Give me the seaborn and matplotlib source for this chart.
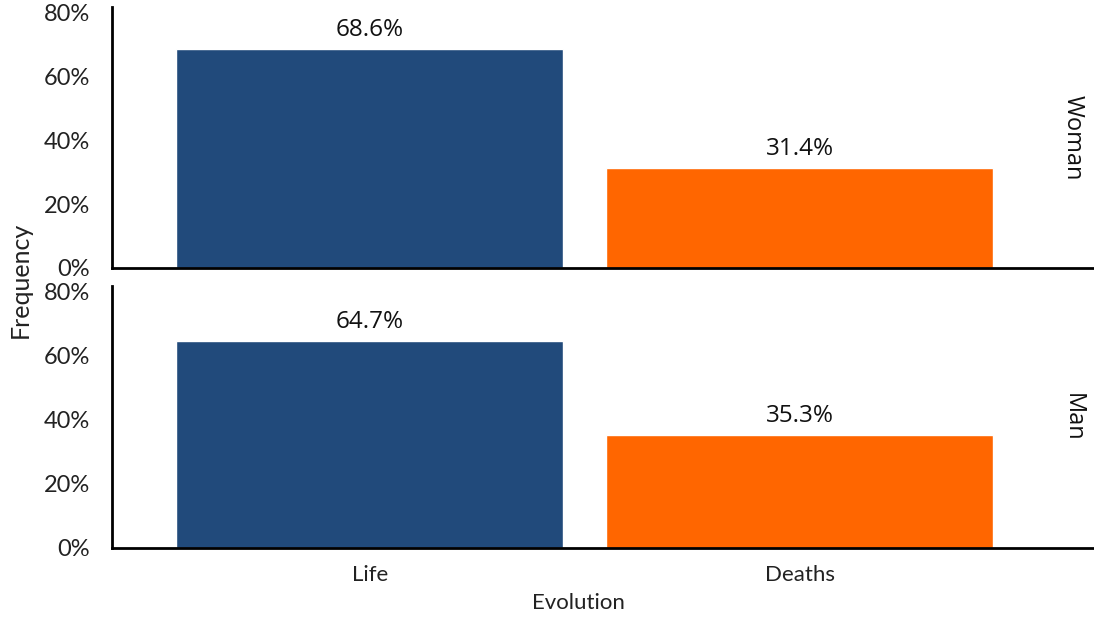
import matplotlib
matplotlib.use("Agg")
import matplotlib.pyplot as plt
import seaborn as sns
import pandas as pd

categories = ["Life", "Deaths"]
sexes = ["Woman", "Man"]
woman_pct = [68.6, 31.4]
man_pct = [64.7, 35.3]
yticks = [0, 20, 40, 60, 80]
ytick_labels = ["0%", "20%", "40%", "60%", "80%"]
colors = {"Life": "#214A7B", "Deaths": "#FF6600"}

sns.set_style("white")
plt.rcParams["font.family"] = ["Lato", "DejaVu Sans"]

W, H = 1094, 617
fig = plt.figure(figsize=(W / 100, H / 100), dpi=100)

def axes_px(x0, y0, x1, y1):
    return fig.add_axes([x0 / W, 1 - y1 / H, (x1 - x0) / W, (y1 - y0) / H])

panels = [("Woman", woman_pct, (112, 7, 1094, 268)),
          ("Man", man_pct, (112, 286, 1094, 548))]

for i, (sex, vals, box) in enumerate(panels):
    ax = axes_px(*box)
    df = pd.DataFrame({"Evolution": categories, "pct": vals})
    sns.barplot(data=df, x="Evolution", y="pct", hue="Evolution",
                palette=colors, width=0.9, ax=ax, legend=False,
                saturation=1, order=categories, hue_order=categories)
    ax.set_xlim(-0.6, 1.684)
    ax.set_ylim(0, 81.8)
    ax.set_yticks(yticks)
    ax.set_yticklabels(ytick_labels, fontsize=17, color="#222222")
    ax.tick_params(axis="y", length=0, pad=16)
    ax.tick_params(axis="x", length=0, pad=12)
    for s in ["top", "right"]:
        ax.spines[s].set_visible(False)
    for s in ["left", "bottom"]:
        ax.spines[s].set_linewidth(2)
        ax.spines[s].set_color("black")
    ax.set_ylabel("")
    ax.set_xlabel("")
    if i == 0:
        ax.set_xticklabels([])
    else:
        ax.set_xticks(range(len(categories)))
        ax.set_xticklabels(categories, fontsize=16, color="#222222")
    for j, v in enumerate(vals):
        ax.annotate(f"{v:.1f}%", (j, v), xytext=(0, 5), textcoords="offset points",
                    ha="center", va="bottom", fontsize=17.5,
                    family=["Open Sans", "DejaVu Sans"], color="#111111")
    ax.text(0.978, 0.5, sex, transform=ax.transAxes, rotation=-90,
            ha="center", va="center", fontsize=17,
            family=["Open Sans", "DejaVu Sans"], color="#111111")

fig.text(20 / W, 1 - 280 / H, "Frequency", rotation=90, ha="center", va="center",
         fontsize=18, color="#222222")
fig.text(578 / W, 1 - 603 / H, "Evolution", ha="center", va="center",
         fontsize=16, color="#222222")

fig.savefig("out.png", dpi=100)
